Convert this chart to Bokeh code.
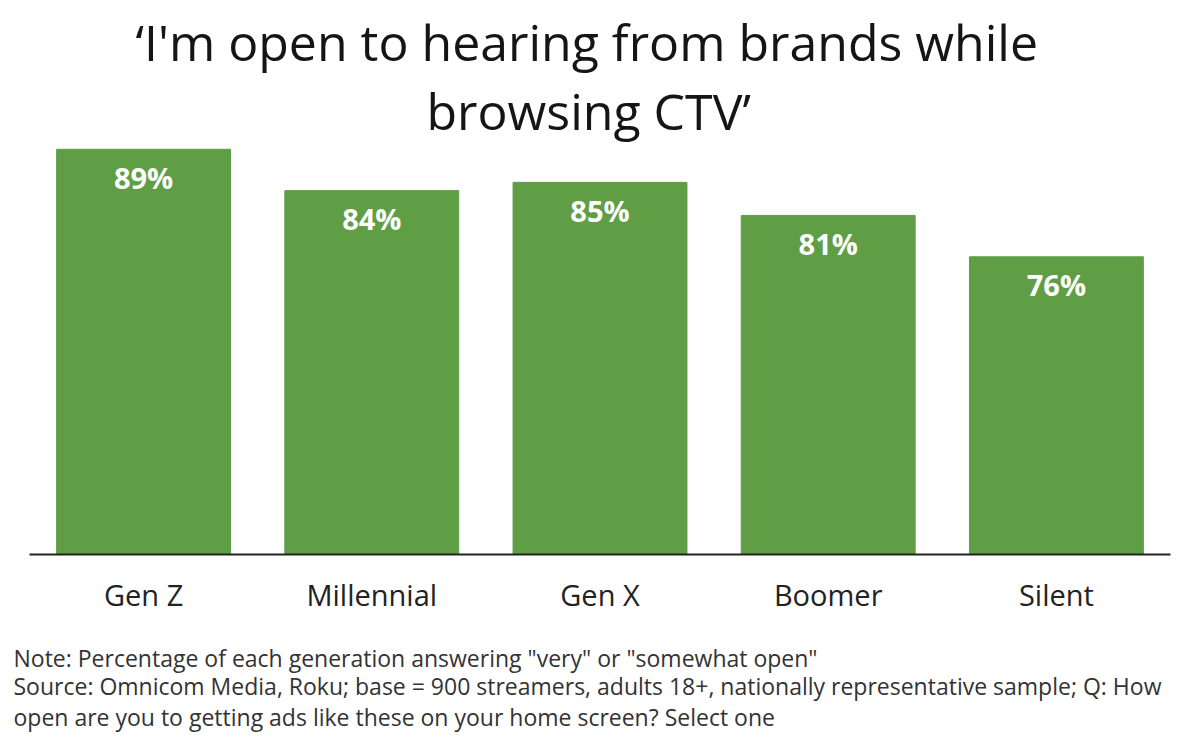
from bokeh.plotting import figure
from bokeh.models import FactorRange, Range1d, Title, ColumnDataSource
from bokeh.core.properties import value
from bokeh.embed import file_html
from bokeh.resources import INLINE

# Share of each generation open to hearing from brands on CTV
generations = ["Gen Z", "Millennial", "Gen X", "Boomer", "Silent"]
shares = [89, 84, 85, 81, 76]
share_labels = [f"{v}%" for v in shares]

title_lines = ["\u2018I'm open to hearing from brands while", "browsing CTV\u2019"]
note_lines = [
    'Note: Percentage of each generation answering "very" or "somewhat open"',
    "Source: Omnicom Media, Roku; base = 900 streamers, adults 18+, nationally representative sample; Q: How",
    "open are you to getting ads like these on your home screen? Select one",
]

BAR = "#5f9e45"
FONT = "Open Sans"

src = ColumnDataSource(dict(gen=generations, share=shares, label=share_labels))

p = figure(
    width=1200, height=750,
    x_range=FactorRange(*generations, range_padding=0),
    y_range=Range1d(40, 89.7),
    output_backend="svg", toolbar_location=None,
    min_border_left=29, min_border_right=30,
    min_border_top=143, min_border_bottom=196,
)
p.outline_line_color = None
p.grid.visible = False
p.yaxis.visible = False

p.vbar(x="gen", top="share", bottom=40, width=0.762, color=BAR, source=src)

p.text(x="gen", y="share", text="label", source=src,
       text_font=value(FONT), text_font_style="bold", text_font_size="29px",
       text_color="white", text_align="center", text_baseline="middle",
       y_offset=28)

ax = p.xaxis[0]
ax.axis_line_color = "#222222"
ax.axis_line_width = 2
ax.major_tick_line_color = None
ax.minor_tick_line_color = None
ax.major_label_text_font = FONT
ax.major_label_text_font_size = "29px"
ax.major_label_text_color = "#222222"
ax.major_label_standoff = 14

# heading: the panel stacks outward, so the second line goes in first
for line, shift, gap in zip(reversed(title_lines), [397, 106], [-3, 2]):
    p.add_layout(Title(text=line, align="left", offset=shift, text_font=FONT,
                       text_font_size="50px", text_font_style="normal",
                       text_color="#151515", standoff=gap), "above")

# footnote under the axis: the note, then the two-line source
note_style = dict(align="left", offset=-16, text_font=FONT, text_font_size="23px",
                  text_font_style="normal", text_color="#333333",
                  vertical_align="top")
p.add_layout(Title(text=note_lines[0], standoff=50, **note_style), "below")
p.add_layout(Title(text="\n".join(note_lines[1:]), standoff=-61,
                   text_line_height=0.96, **note_style), "below")

open("out.html", "w").write(file_html(p, INLINE))
